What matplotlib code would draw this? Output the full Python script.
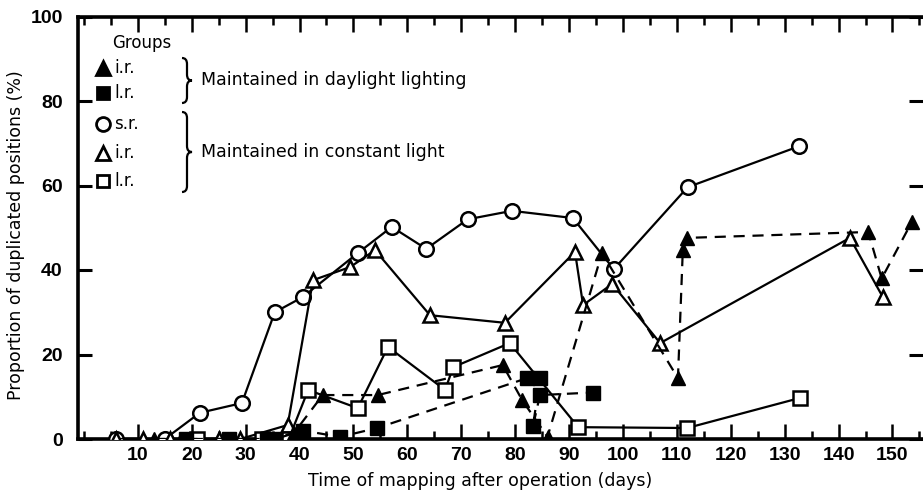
import numpy as np
import matplotlib
matplotlib.use('Agg')
import matplotlib.pyplot as plt
from matplotlib.path import Path
from matplotlib.patches import PathPatch
from matplotlib.ticker import MultipleLocator

plt.rcParams['font.family'] = ['DejaVu Sans']

# s.r., constant light (open circles)
sr_const_x = [6, 15, 21.5, 29.3, 35.4, 40.6, 50.8, 57.1, 63.5, 71.2, 79.4, 90.7, 98.3, 112, 132.7]
sr_const_y = [0, 0, 6.2, 8.5, 30, 33.6, 44, 50.2, 45, 52, 54, 52.3, 40.2, 59.6, 69.3]

# i.r., constant light (open triangles)
ir_const_x = [6, 11, 16, 25, 29, 37.8, 42.5, 49.4, 54, 64.2, 78.1, 91.1, 92.6, 98, 106.9, 142.1, 148.2]
ir_const_y = [0, 0, 0, 0, 0, 3.3, 37.6, 40.7, 44.7, 29.3, 27.5, 44.3, 31.7, 36.7, 22.7, 47.6, 33.6]

# l.r., constant light (open squares)
lr_const_x = [21, 33, 38, 41.6, 50.8, 56.4, 67, 68.5, 79, 91.7, 111.9, 132.8]
lr_const_y = [0, 0, 0, 11.6, 7.3, 21.8, 11.6, 17, 22.7, 2.8, 2.6, 9.7]

# i.r., daylight lighting (filled triangles)
ir_day_x = [13, 18, 27, 35, 39, 44.3, 54.5, 77.7, 81.3, 86, 96.1, 110.2, 111.1, 111.9, 145.5, 148, 153.6]
ir_day_y = [0, 0, 0, 0, 1.5, 10.4, 10.4, 17.5, 9.2, 0.5, 44, 14.4, 44.7, 47.6, 49, 38, 51.4]

# l.r., daylight lighting (filled squares)
lr_day_x = [19, 27, 34, 35.5, 40.6, 47.5, 54.4, 82.2, 84.6, 83.3, 84.6, 94.4]
lr_day_y = [0, 0, 0, 0, 2, 0.5, 2.6, 14.4, 14.4, 3, 10.4, 11]

x_ticks = list(range(10, 151, 10))
y_ticks = [0, 20, 40, 60, 80, 100]

W, H = 923, 495
fig = plt.figure(figsize=(W / 100, H / 100), dpi=100)
ax = fig.add_axes([78 / W, 1 - 439 / H, 1 - 78 / W, (439 - 16.5) / H])

dash = (0, (5, 3.5))
lw = 1.6
ax.plot(sr_const_x, sr_const_y, '-', color='black', lw=lw, marker='o', ms=10.5,
        mfc='white', mec='black', mew=1.8, zorder=3)
ax.plot(ir_const_x, ir_const_y, '-', color='black', lw=lw, marker='^', ms=10.5,
        mfc='white', mec='black', mew=1.8, zorder=3)
ax.plot(lr_const_x, lr_const_y, '-', color='black', lw=lw, marker='s', ms=9.5,
        mfc='white', mec='black', mew=1.8, zorder=3)
ax.plot(ir_day_x, ir_day_y, linestyle=dash, color='black', lw=lw, marker='^', ms=10.5,
        mfc='black', mec='black', zorder=4)
ax.plot(lr_day_x, lr_day_y, linestyle=dash, color='black', lw=lw, marker='s', ms=9.5,
        mfc='black', mec='black', zorder=4)

ax.set_xlim(-1.1, 155.66)
ax.set_ylim(0, 100)
ax.set_xticks(x_ticks)
ax.xaxis.set_minor_locator(MultipleLocator(5))
ax.set_yticks(y_ticks)

for s in ['left', 'bottom', 'top']:
    ax.spines[s].set_linewidth(2.6)
ax.spines['right'].set_visible(False)

ax.tick_params(axis='x', which='major', direction='in', length=11, width=1.8,
               top=True, bottom=True, pad=6)
ax.tick_params(axis='x', which='minor', direction='in', length=6, width=1.8,
               top=True, bottom=True)
ax.tick_params(axis='y', which='major', direction='in', length=10, width=2.2,
               left=True, right=True, pad=11)
for lab in ax.get_xticklabels() + ax.get_yticklabels():
    lab.set_family('Liberation Sans')
    lab.set_fontweight('bold')
    lab.set_fontsize(14)

ax.set_xlabel('Time of mapping after operation (days)', fontsize=12.5)
ax.xaxis.set_label_coords((480 - 78) / (W - 78), -(481 - 439) / (439 - 16.5))
ax.xaxis.label.set_va('center')
ax.set_ylabel('Proportion of duplicated positions (%)', fontsize=12.5)
ax.yaxis.set_label_coords(-(78 - 16) / (W - 78), (439 - 235) / (439 - 16.5))
ax.yaxis.label.set_va('center')


def fx(px):
    return px / W


def fy(py):
    return 1 - py / H


# legend block
fig.text(fx(112), fy(43), 'Groups', fontsize=12, va='center', ha='left')
legend_rows = [('^', 'black', 10, 68, 'i.r.'), ('s', 'black', 9, 93, 'l.r.'),
               ('o', 'white', 10, 124, 's.r.'), ('^', 'white', 10, 153, 'i.r.'),
               ('s', 'white', 9, 181, 'l.r.')]
for mk, fc, ms, py, txt in legend_rows:
    fig.lines.append(plt.Line2D([fx(103)], [fy(py)], marker=mk, ms=ms, mfc=fc,
                                mec='black', mew=2, transform=fig.transFigure))
    fig.text(fx(114), fy(py), txt, fontsize=12, va='center', ha='left')


def brace(x0, yt, yb, w, r=6):
    xm = x0 + w / 2
    ym = (yt + yb) / 2
    pts = [(x0, yt), (xm, yt), (xm, yt + r), (xm, ym - r), (xm, ym), (x0 + w, ym),
           (xm, ym), (xm, ym + r), (xm, yb - r), (xm, yb), (x0, yb)]
    codes = [Path.MOVETO, Path.CURVE3, Path.CURVE3, Path.LINETO, Path.CURVE3, Path.CURVE3,
             Path.CURVE3, Path.CURVE3, Path.LINETO, Path.CURVE3, Path.CURVE3]
    verts = [(fx(a), fy(b)) for a, b in pts]
    fig.patches.append(PathPatch(Path(verts, codes), fill=False, lw=1.6,
                                 edgecolor='black', transform=fig.transFigure))


brace(182, 58, 103, 10)
brace(182, 112, 192, 10)
fig.text(fx(201), fy(80), 'Maintained in daylight lighting', fontsize=12.5, va='center', ha='left')
fig.text(fx(201), fy(152), 'Maintained in constant light', fontsize=12.5, va='center', ha='left')

fig.savefig('out.png', dpi=100)
